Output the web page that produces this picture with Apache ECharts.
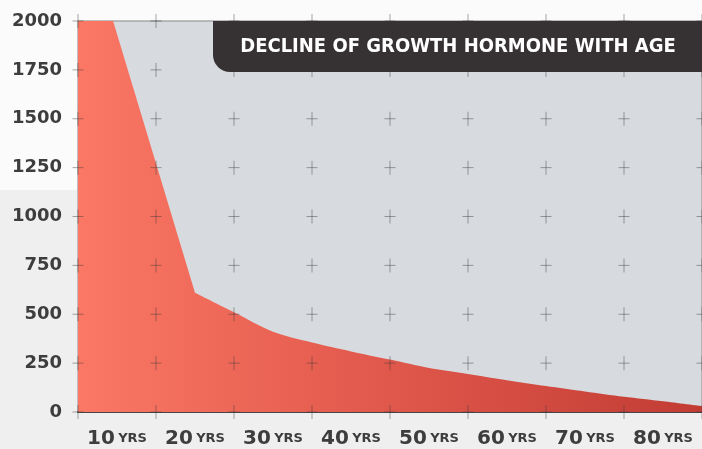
<!DOCTYPE html>
<html>
<head>
<meta charset="utf-8">
<script src="https://cdn.jsdelivr.net/npm/echarts@6/dist/echarts.min.js"></script>
<style>
html,body{margin:0;padding:0;background:#efefef;}
#c{width:702px;height:449px;}
</style>
</head>
<body>
<div id="c"></div>
<script>
// ---- data ----
var ageCategories = ['10', '20', '30', '40', '50', '60', '70', '80'];
var ages = [5, 9.5, 20, 25, 30, 35, 40, 45, 50, 55, 60, 65, 70, 75, 80, 85];
var growthHormone = [2000, 2000, 610, 510, 410, 355, 310, 268, 225, 195, 163, 133, 105, 78, 55, 30];
var kinkIndex = 2; // steep fall ends at age 20
var crossAges = [5, 15, 25, 35, 45, 55, 65, 75, 85];
var crossLevels = [0, 250, 500, 750, 1000, 1250, 1500, 1750, 2000];
var titleText = 'DECLINE OF GROWTH HORMONE WITH AGE';
var unitText = 'YRS';

var areaData = ages.map(function (a, i) { return [a, growthHormone[i]]; });
var steepPart = areaData.slice(0, kinkIndex + 1);
var tailPart = areaData.slice(kinkIndex);
var crossData = [];
crossAges.forEach(function (a) { crossLevels.forEach(function (l) { crossData.push([a, l]); }); });

var chart = echarts.init(document.getElementById('c'), null, {renderer: 'canvas'});
var labelColor = '#3d3d3d';
var crossColor = 'rgba(55,55,55,0.55)';

function redFill() {
  return new echarts.graphic.LinearGradient(78, 0, 702, 0, [
    { offset: 0, color: '#fb7865' },
    { offset: 0.5, color: '#e0574b' },
    { offset: 1, color: '#c23c34' }
  ], true);
}

chart.setOption({
  backgroundColor: '#efefef',
  animation: false,
  grid: {
    left: 78, right: 0, top: 21, bottom: 37,
    show: true, backgroundColor: '#d7dbdf', borderColor: '#8c8c8c', borderWidth: 1
  },
  xAxis: [
    {
      type: 'value', min: 5, max: 85, position: 'bottom',
      show: false
    },
    {
      type: 'category', data: ageCategories, boundaryGap: true, position: 'bottom',
      axisLine: { show: true, lineStyle: { color: '#474747', width: 2 } },
      axisTick: { show: false },
      splitLine: { show: false },
      axisLabel: {
        interval: 0,
        margin: 17,
        formatter: function (v) { return '{n|' + v + '} {u|' + unitText + '}'; },
        rich: {
          n: { fontFamily: 'DejaVu Sans', fontWeight: 'bold', fontSize: 20, color: labelColor },
          u: { fontFamily: 'DejaVu Sans', fontWeight: 'bold', fontSize: 13, color: labelColor }
        }
      }
    }
  ],
  yAxis: {
    type: 'value', min: 0, max: 2000, interval: 250,
    axisLine: { show: false },
    axisTick: { show: false },
    splitLine: { show: false },
    axisLabel: {
      margin: 16, fontFamily: 'DejaVu Sans', fontWeight: 'bold', fontSize: 18, color: labelColor,
      formatter: function (v) { return String(v); }
    }
  },
  series: [
    {
      type: 'line', xAxisIndex: 0, yAxisIndex: 0, data: steepPart,
      symbol: 'none', clip: true, smooth: false,
      lineStyle: { width: 0 },
      areaStyle: { opacity: 1, color: redFill() },
      z: 2
    },
    {
      type: 'line', xAxisIndex: 0, yAxisIndex: 0, data: tailPart,
      symbol: 'none', clip: true, smooth: 0.3,
      lineStyle: { width: 0 },
      areaStyle: { opacity: 1, color: redFill() },
      z: 2
    },
    {
      type: 'scatter', xAxisIndex: 0, yAxisIndex: 0, data: crossData, clip: true,
      symbol: 'rect', symbolSize: [11, 1], itemStyle: { color: crossColor },
      silent: true, z: 3
    },
    {
      type: 'scatter', xAxisIndex: 0, yAxisIndex: 0, data: crossData, clip: true,
      symbol: 'rect', symbolSize: [1, 14], itemStyle: { color: crossColor },
      silent: true, z: 3
    }
  ],
  graphic: [
    { type: 'rect', z: -100, silent: true, shape: { x: 0, y: 0, width: 702, height: 20 }, style: { fill: '#fbfbfb' } },
    { type: 'rect', z: -100, silent: true, shape: { x: 0, y: 0, width: 77, height: 190 }, style: { fill: '#fbfbfb' } },
    {
      type: 'rect', z: 100, silent: true,
      shape: { x: 213, y: 21, width: 489, height: 51, r: [0, 0, 0, 17] },
      style: { fill: '#363132' }
    },
    {
      type: 'text', z: 101, silent: true, x: 458, y: 47,
      style: {
        text: titleText, fill: '#ffffff', align: 'center', verticalAlign: 'middle',
        font: 'bold 20px "DejaVu Sans Condensed", "DejaVu Sans"'
      }
    }
  ]
});
</script>
</body>
</html>
